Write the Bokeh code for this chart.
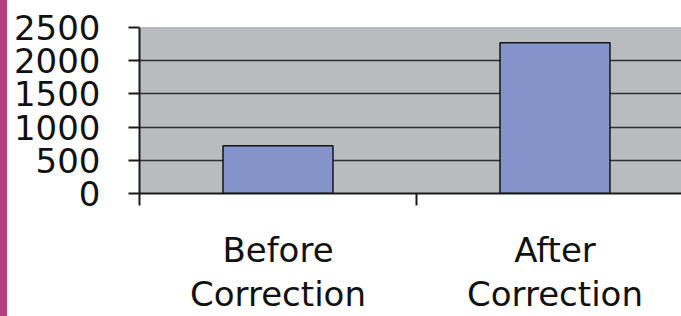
from bokeh.plotting import figure
from bokeh.models import Range1d, FixedTicker, Span, ColumnDataSource
from bokeh.embed import file_html
from bokeh.resources import INLINE

# ---- data ----
categories = ["Before\nCorrection", "After\nCorrection"]
values = [720, 2270]
y_ticks = [0, 500, 1000, 1500, 2000, 2500]

xs = [i + 0.5 for i in range(len(categories))]
src = ColumnDataSource(dict(x=xs, top=values))

W, H = 681, 316
p = figure(width=W, height=H, output_backend="svg", toolbar_location=None,
           x_range=Range1d(0, 1.9567), y_range=Range1d(0, 2500),
           min_border_left=139, min_border_right=0, min_border_top=27,
           min_border_bottom=123)
p.styles = {"background": "linear-gradient(to right, #B3407A 0px, #B3407A 7px, #ffffff 7px)"}
p.border_fill_color = None
p.background_fill_color = "#B8BCBF"
p.outline_line_color = None

# grid
p.xgrid.visible = False
p.ygrid.ticker = FixedTicker(ticks=y_ticks[:-1])
p.ygrid.grid_line_color = "#2e2e2e"
p.ygrid.grid_line_width = 1.6
p.add_layout(Span(location=y_ticks[-1], dimension="width", line_color="#9a9a9a", line_width=1.5))

# bars
p.vbar(x="x", top="top", bottom=0, width=0.397, source=src,
       fill_color="#8494CB", line_color="#151515", line_width=1.5)

# y axis
ya = p.yaxis[0]
ya.ticker = FixedTicker(ticks=y_ticks)
ya.major_tick_out = 11
ya.major_tick_in = 0
ya.minor_tick_line_color = None
ya.major_tick_line_width = 2
ya.major_tick_line_color = "#1a1a1a"
ya.axis_line_width = 2
ya.axis_line_color = "#1a1a1a"
ya.major_label_standoff = 28
ya.major_label_text_font = "DejaVu Sans"
ya.major_label_text_font_size = "34px"
ya.major_label_text_color = "#111111"

# x axis
xa = p.xaxis[0]
xa.ticker = FixedTicker(ticks=xs, minor_ticks=[0, 1, 2])
xa.major_label_overrides = {x: c for x, c in zip(xs, categories)}
xa.major_tick_line_color = None
xa.major_tick_out = 0
xa.major_tick_in = 0
xa.minor_tick_out = 12
xa.minor_tick_in = 0
xa.minor_tick_line_width = 2
xa.minor_tick_line_color = "#1a1a1a"
xa.axis_line_width = 2
xa.axis_line_color = "#1a1a1a"
xa.major_label_standoff = 24
xa.major_label_text_font = "DejaVu Sans"
xa.major_label_text_font_size = "34px"
xa.major_label_text_line_height = 1.11
xa.major_label_text_color = "#111111"

open("out.html", "w").write(file_html(p, INLINE))
